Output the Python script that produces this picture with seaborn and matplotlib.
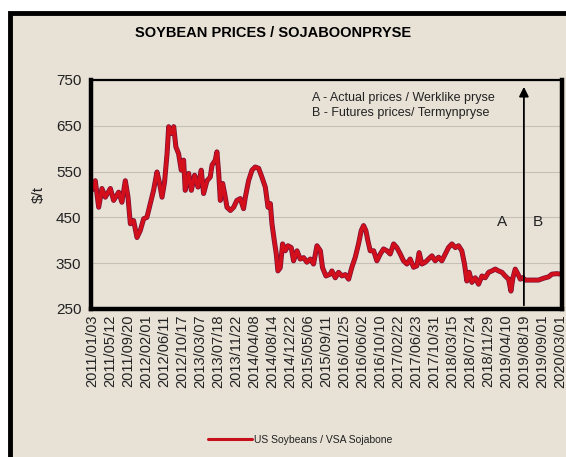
import pandas as pd
import matplotlib.pyplot as plt
import seaborn as sns
from matplotlib.patches import Rectangle

# --- data ---
# x positions are in "tick steps" along the date axis (tick 0 = 2011/01/03)
tick_labels = ['2011/01/03', '2011/05/12', '2011/09/20', '2012/02/01', '2012/06/11',
               '2012/10/17', '2013/03/07', '2013/07/18', '2013/11/22', '2014/04/08',
               '2014/08/14', '2014/12/22', '2015/05/06', '2015/09/11', '2016/01/25',
               '2016/06/02', '2016/10/10', '2017/02/22', '2017/06/23', '2017/10/31',
               '2018/03/15', '2018/07/24', '2018/11/29', '2019/04/10', '2019/08/19',
               '2019/09/01', '2020/03/01']

actual_pos = [0.00, 0.18, 0.37, 0.55, 0.74, 1.02, 1.20, 1.48, 1.66, 1.85, 2.00, 2.13,
              2.31, 2.50, 2.68, 2.87, 3.05, 3.24, 3.42, 3.61, 3.74, 3.89, 4.03, 4.17,
              4.26, 4.41, 4.54, 4.66, 4.81, 4.96, 5.09, 5.18, 5.37, 5.52, 5.70, 5.89,
              6.07, 6.20, 6.39, 6.57, 6.67, 6.85, 6.94, 7.04, 7.13, 7.26, 7.37, 7.50,
              7.69, 7.87, 8.05, 8.24, 8.42, 8.52, 8.70, 8.89, 9.07, 9.26, 9.44, 9.63,
              9.78, 9.91, 10.00, 10.13, 10.24, 10.33, 10.46, 10.59, 10.74, 10.89, 11.07,
              11.20, 11.39, 11.57, 11.76, 11.94, 12.13, 12.31, 12.50, 12.69, 12.81,
              13.00, 13.24, 13.33, 13.52, 13.70, 13.89, 14.07, 14.26, 14.44, 14.63,
              14.81, 14.96, 15.09, 15.22, 15.33, 15.46, 15.65, 15.83, 16.02, 16.20,
              16.39, 16.57, 16.76, 16.94, 17.13, 17.31, 17.50, 17.68, 17.87, 18.05,
              18.18, 18.33, 18.52, 18.70, 18.89, 19.07, 19.26, 19.44, 19.63, 19.81,
              20.00, 20.19, 20.37, 20.55, 20.70, 20.83, 20.96, 21.11, 21.30, 21.48,
              21.67, 21.85, 22.04, 22.22, 22.41, 22.59, 22.78, 22.96, 23.15, 23.28,
              23.39, 23.52, 23.67, 23.80, 23.94]
actual_price = [510, 530, 472, 513, 494, 513, 487, 505, 483, 530, 494, 436,
                443, 406, 421, 447, 450, 480, 509, 549, 527, 494, 527, 589,
                648, 633, 648, 604, 589, 553, 575, 509, 546, 509, 542, 516,
                553, 502, 530, 538, 564, 575, 593, 546, 487, 524, 502, 472,
                465, 472, 487, 491, 469, 494, 530, 553, 560, 557, 538, 516,
                472, 480, 436, 399, 370, 333, 340, 392, 377, 388, 384,
                355, 377, 359, 362, 352, 359, 348, 388, 377, 340,
                322, 326, 333, 318, 330, 322, 325, 315, 341, 363,
                392, 421, 432, 421, 399, 377, 377, 355, 370, 381,
                377, 370, 392, 384, 370, 355, 348, 359, 341, 344,
                373, 348, 352, 359, 366, 355, 363, 355, 370, 384,
                392, 384, 388, 377, 348, 311, 330, 308, 318, 304,
                322, 318, 330, 333, 337, 333, 330, 322, 315, 289,
                318, 337, 326, 315, 318]

futures_pos = [23.94, 24.07, 24.44, 24.81, 25.09, 25.37, 25.56, 25.83, 26.07]
futures_price = [318, 313, 313, 313, 317, 320, 326, 327, 326]

y_ticks = [250, 350, 450, 550, 650, 750]

bg = '#e7e1d6'
line_red = '#d20f1a'
line_edge = '#7a1038'

sns.set_style('white')
plt.rcParams['font.family'] = ['Liberation Sans', 'DejaVu Sans']
plt.rcParams['text.color'] = '#222222'
plt.rcParams['axes.labelcolor'] = '#222222'
plt.rcParams['xtick.color'] = '#222222'
plt.rcParams['ytick.color'] = '#222222'

actual = pd.DataFrame({'pos': actual_pos, 'price': actual_price})
futures = pd.DataFrame({'pos': futures_pos, 'price': futures_price})

fig = plt.figure(figsize=(5.66, 4.57), dpi=100, facecolor='white')
# beige card with black frame behind the chart
fig.patches.append(Rectangle((0.017, -0.05), 1.1, 1.0216, transform=fig.transFigure,
                             facecolor=bg, edgecolor='black', linewidth=3.5, zorder=-10))

ax = fig.add_axes([0.161, 0.324, 0.832, 0.501])
ax.set_facecolor('none')

for df in (actual, futures):
    sns.lineplot(data=df, x='pos', y='price', ax=ax, color=line_edge, linewidth=3.6,
                 estimator=None, sort=False, solid_joinstyle='round')
    sns.lineplot(data=df, x='pos', y='price', ax=ax, color=line_red, linewidth=2.6,
                 estimator=None, sort=False, solid_joinstyle='round')

ax.set_xlim(-0.05, 26.12)
ax.set_ylim(250, 750)
ax.set_yticks(y_ticks)
ax.set_yticklabels([str(v) for v in y_ticks], fontsize=11)
ax.set_xticks(range(len(tick_labels)))
ax.set_xticklabels(tick_labels, rotation=90, fontsize=10.5)
ax.tick_params(axis='y', length=4, width=1, direction='out', color='black', pad=3)
ax.tick_params(axis='x', length=0, pad=4)
ax.set_xlabel('')
ax.set_ylabel('$/t', fontsize=11, labelpad=7)

ax.yaxis.grid(True, color='#c5c0b6', linewidth=0.8)
ax.set_axisbelow(True)
for side in ['left', 'bottom', 'right']:
    ax.spines[side].set_linewidth(3.2)
    ax.spines[side].set_color('black')
ax.spines['top'].set_linewidth(1.6)
ax.spines['top'].set_color('black')

# actual / futures divider arrow
ax.annotate('', xy=(24, 735), xytext=(24, 258),
            arrowprops=dict(arrowstyle='-|>', color='black', lw=1.3,
                            mutation_scale=14, shrinkA=0, shrinkB=0))
ax.text(12.25, 710, 'A - Actual prices / Werklike pryse', fontsize=9, va='center')
ax.text(12.25, 678, 'B - Futures prices/ Termynpryse', fontsize=9, va='center')
ax.text(22.8, 439, 'A', fontsize=11, ha='center', va='center')
ax.text(24.8, 439, 'B', fontsize=11, ha='center', va='center')

fig.text(0.482, 0.928, 'SOYBEAN PRICES / SOJABOONPRYSE', fontsize=10.5,
         fontweight='bold', ha='center', va='center', color='black')

handle = plt.Line2D([], [], color='#c8101a', linewidth=2.2)
fig.legend([handle], ['US Soybeans / VSA Sojabone'], loc='center',
           bbox_to_anchor=(0.53, 0.037), frameon=False, fontsize=7.5,
           handlelength=4.2, handletextpad=0.2)

plt.savefig('out.png', dpi=100, facecolor='white')
